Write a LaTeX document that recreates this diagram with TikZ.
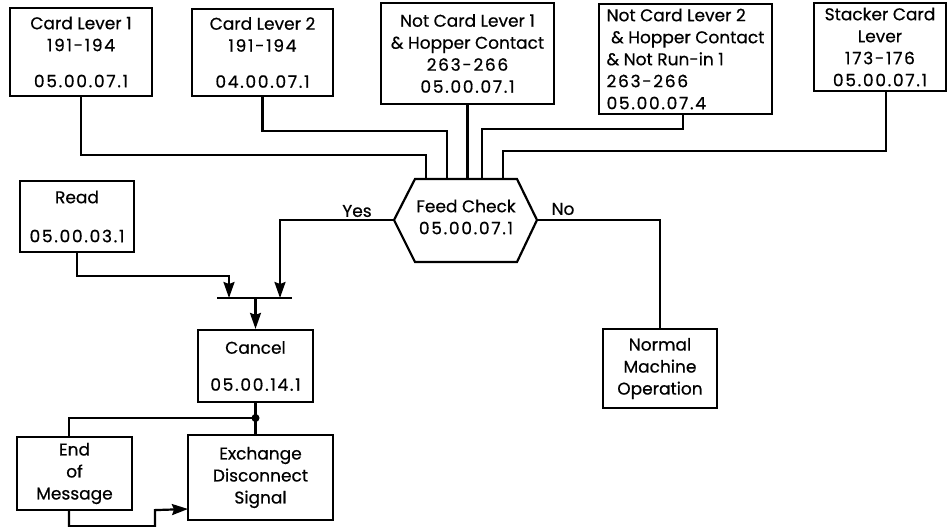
\documentclass[tikz,border=0pt]{standalone}
\usepackage{fontspec}
\setmainfont[FakeBold=0.6]{Poppins}
\usetikzlibrary{arrows.meta}
\newcommand{\refno}[1]{{\addfontfeature{LetterSpace=10}#1}}
\begin{document}
\begin{tikzpicture}[x=1pt,y=-1pt,line width=2.2pt,
  arr/.style={-{Stealth[length=16pt,width=11pt,inset=2pt]}},
  blk/.style={draw,align=center,inner sep=0pt,font=\fontsize{17}{22}\selectfont},
  lbl/.style={inner sep=0pt,font=\fontsize{17}{22}\selectfont}]
	  \useasboundingbox (0,0) rectangle (948,527);
	  % top row
	  \node[blk,minimum width=142pt,minimum height=88pt] (cl1) at (81,52) {Card Lever 1\\\refno{191-194}\\[14pt]\refno{05.00.07.1}};
	  \node[blk,minimum width=141pt,minimum height=87pt] (cl2) at (262.5,52.5) {Card Lever 2\\\refno{191-194}\\[14pt]\refno{04.00.07.1}};
	  \node[blk,minimum width=173pt,minimum height=101pt] (ncl1) at (467.5,53.5) {Not Card Lever 1\\\& Hopper Contact\\\refno{263-266}\\\refno{05.00.07.1}};
	  \node[blk,align=left,minimum width=173pt,minimum height=110pt] (ncl2) at (685.5,59) {Not Card Lever 2\\\ \& Hopper Contact\\\& Not Run-in 1\\\refno{263-266}\\\refno{05.00.07.4}};
	  \node[blk,minimum width=132pt,minimum height=88pt] (scl) at (880,47) {Stacker Card\\Lever\\\refno{173-176}\\\refno{05.00.07.1}};
	  % feed check
	  \coordinate (fcl) at (394,220);
	  \coordinate (fctl) at (415,179);
	  \coordinate (fctr) at (517,179);
	  \coordinate (fcr) at (537,220);
	  \coordinate (fcbr) at (517,262);
	  \coordinate (fcbl) at (415,262);
	  \draw (fcl) -- (fctl) -- (fctr) -- (fcr) -- (fcbr) -- (fcbl) -- cycle;
	  \node[lbl,align=center] (fc) at (466,217) {Feed Check\\\refno{05.00.07.1}};
	  \coordinate (in1) at (426,179);
	  \coordinate (in2) at (447,179);
	  \coordinate (in3) at (467.5,179);
	  \coordinate (in4) at (482,179);
	  \coordinate (in5) at (503,179);
	  \draw (cl1.south) -- ++(0,58) -| (in1);
	  \draw (cl2.south) -- ++(0,34) -| (in2);
	  \draw (ncl1.south) -- (in3);
	  \draw ([xshift=-2.5pt]ncl2.south) -- ++(0,14) -| (in4);
	  \draw ([xshift=6pt]scl.south) -- ++(0,59) -| (in5);
	  \node[lbl] (yes) at (357,211) {Yes};
	  \node[lbl] (no) at (563,209) {No};
	  % read and cancel
	  \node[blk,minimum width=114pt,minimum height=71pt] (read) at (77,216.5) {Read\\[17pt]\refno{05.00.03.1}};
	  \coordinate (barl) at (217,298);
	  \coordinate (barr) at (292,298);
	  \coordinate (ja) at (229,298);
	  \coordinate (jb) at (280,298);
	  \coordinate (jc) at (255.5,298);
	  \draw (barl) -- (barr);
	  \draw[arr] (read.south) -- ++(0,23) -| (ja);
	  \draw[arr] (fcl) -| (jb);
	  \node[blk,minimum width=115pt,minimum height=72pt] (cancel) at (255.5,366) {Cancel\\[15pt]\refno{05.00.14.1}};
	  \draw[arr] (jc) -- (cancel.north);
	  \node[blk,minimum width=114pt,minimum height=79pt] (norm) at (660,368.5) {Normal\\Machine\\Operation};
	  \draw (fcr) -| (norm.north);
	  % bottom
	  \node[circle,fill,inner sep=0pt,minimum size=8pt] (dot) at (255.5,418) {};
	  \node[blk,minimum width=115pt,minimum height=73pt] (eom) at (74.5,473.5) {End\\of\\Message};
	  \node[blk,minimum width=145pt,minimum height=85pt] (exch) at (260.5,477.5) {Exchange\\Disconnect\\Signal};
	  \coordinate (ein) at (188,509);
	  \draw (cancel.south) -- (dot.center) -- (dot.center |- exch.north);
	  \draw (dot.center) -| ([xshift=-5.5pt]eom.north);
	  \draw[arr] ([xshift=-5.5pt]eom.south) -- ++(0,15) -| ++(86,-16) -- (ein);
\end{tikzpicture}
\end{document}
